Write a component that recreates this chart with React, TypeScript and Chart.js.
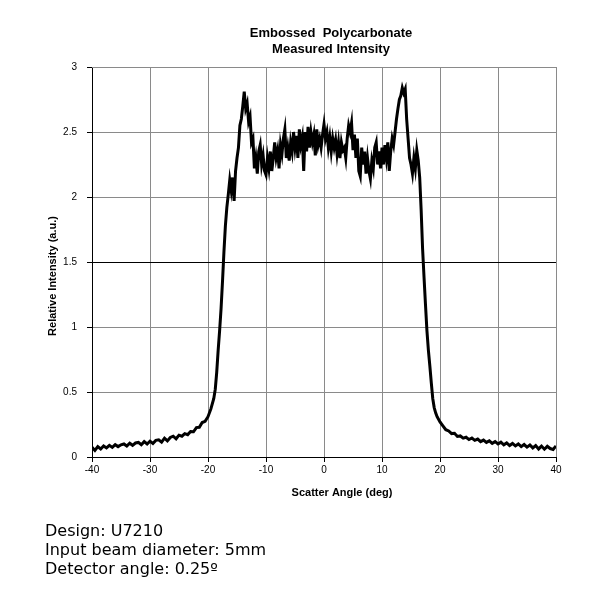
import React, { useEffect, useRef } from "react";
import { Chart, registerables } from "chart.js";

Chart.register(...registerables);

const angles: number[] = [
  -40, -39.5, -39, -38.5, -38, -37.5, -37, -36.5, -36, -35.5, -35, -34.5, -34, -33.5, -33, -32.5, -32, -31.5, -31, -30.5,
  -30, -29.5, -29, -28.5, -28, -27.5, -27, -26.5, -26, -25.5, -25, -24.5, -24, -23.5, -23, -22.5, -22, -21.5, -21, -20.5,
  -20, -19.5, -19, -18.75, -18.5, -18.25, -18, -17.75, -17.5, -17.25, -17, -16.75, -16.5, -16.25, -16, -15.75, -15.5, -15.25,
  -15, -14.75, -14.5, -14.25, -14, -13.75, -13.5, -13.25, -13, -12.75, -12.5, -12.25, -12, -11.75, -11.5, -11.25, -11, -10.75,
  -10.5, -10.25, -10, -9.75, -9.5, -9.25, -9, -8.75, -8.5, -8.25, -8, -7.75, -7.5, -7.25, -7, -6.75, -6.5, -6.25, -6, -5.75,
  -5.5, -5.25, -5, -4.75, -4.5, -4.25, -4, -3.75, -3.5, -3.25, -3, -2.75, -2.5, -2.25, -2, -1.75, -1.5, -1.25, -1, -0.75,
  -0.5, -0.25, 0, 0.25, 0.5, 0.75, 1, 1.25, 1.5, 1.75, 2, 2.25, 2.5, 2.75, 3, 3.25, 3.5, 3.75, 4, 4.25,
  4.5, 4.75, 5, 5.25, 5.5, 5.75, 6, 6.25, 6.5, 6.75, 7, 7.25, 7.5, 7.75, 8, 8.25, 8.5, 8.75, 9, 9.25,
  9.5, 9.75, 10, 10.25, 10.5, 10.75, 11, 11.25, 11.5, 11.75, 12, 12.25, 12.5, 12.75, 13, 13.25, 13.5, 13.75, 14, 14.25,
  14.5, 14.75, 15, 15.25, 15.5, 15.75, 16, 16.25, 16.5, 16.75, 17, 17.25, 17.5, 17.75, 18, 18.25, 18.5, 18.75, 19, 19.25,
  19.5, 20, 20.5, 21, 21.5, 22, 22.5, 23, 23.5, 24, 24.5, 25, 25.5, 26, 26.5, 27, 27.5, 28, 28.5, 29,
  29.5, 30, 30.5, 31, 31.5, 32, 32.5, 33, 33.5, 34, 34.5, 35, 35.5, 36, 36.5, 37, 37.5, 38, 38.5, 39,
  39.5, 40,
];

const intensity: number[] = [
  0.075, 0.05, 0.08, 0.062, 0.085, 0.07, 0.09, 0.074, 0.095, 0.08, 0.094, 0.1, 0.084, 0.106, 0.09, 0.108, 0.112, 0.094, 0.118, 0.1,
  0.122, 0.104, 0.128, 0.132, 0.114, 0.145, 0.124, 0.15, 0.16, 0.14, 0.168, 0.16, 0.18, 0.172, 0.196, 0.194, 0.226, 0.228, 0.265, 0.275,
  0.31, 0.37, 0.45, 0.52, 0.65, 0.82, 0.97, 1.14, 1.35, 1.58, 1.78, 1.92, 2.02, 2.13, 2.05, 2.15, 1.97, 2.2,
  2.3, 2.38, 2.55, 2.6, 2.7, 2.81, 2.68, 2.72, 2.58, 2.62, 2.42, 2.45, 2.22, 2.3, 2.18, 2.35, 2.4, 2.25,
  2.32, 2.2, 2.17, 2.3, 2.22, 2.35, 2.2, 2.3, 2.42, 2.3, 2.36, 2.22, 2.4, 2.33, 2.45, 2.52, 2.3, 2.38, 2.28, 2.42,
  2.35, 2.5, 2.38, 2.47, 2.3, 2.52, 2.4, 2.46, 2.2, 2.5, 2.35, 2.54, 2.38, 2.5, 2.42, 2.48, 2.32, 2.52, 2.4, 2.45,
  2.38, 2.48, 2.56, 2.45, 2.5, 2.38, 2.46, 2.35, 2.45, 2.38, 2.44, 2.33, 2.42, 2.3, 2.42, 2.36, 2.38, 2.3, 2.45, 2.55,
  2.5, 2.57, 2.36, 2.48, 2.3, 2.45, 2.2, 2.16, 2.38, 2.25, 2.35, 2.18, 2.3, 2.2, 2.14, 2.28, 2.22, 2.38, 2.42, 2.25,
  2.35, 2.22, 2.38, 2.25, 2.4, 2.3, 2.42, 2.2, 2.35, 2.45, 2.4, 2.5, 2.6, 2.68, 2.75, 2.78, 2.84, 2.8, 2.83, 2.6,
  2.45, 2.3, 2.25, 2.18, 2.3, 2.22, 2.36, 2.28, 2.15, 1.9, 1.6, 1.38, 1.17, 0.97, 0.82, 0.7, 0.57, 0.45, 0.38, 0.34,
  0.31, 0.27, 0.24, 0.21, 0.2, 0.18, 0.182, 0.158, 0.162, 0.145, 0.152, 0.134, 0.146, 0.128, 0.138, 0.118, 0.13, 0.112, 0.124, 0.105,
  0.118, 0.1, 0.114, 0.094, 0.108, 0.088, 0.104, 0.085, 0.1, 0.08, 0.096, 0.076, 0.092, 0.07, 0.088, 0.062, 0.084, 0.06, 0.082, 0.065,
  0.058, 0.085,
];

const xTicks: number[] = [-40, -30, -20, -10, 0, 10, 20, 30, 40];
const yTicks: number[] = [0, 0.5, 1, 1.5, 2, 2.5, 3];
const titleLines: string[] = ["Embossed  Polycarbonate", "Measured Intensity"];
const xTitle = "Scatter Angle (deg)";
const yTitle = "Relative Intensity (a.u.)";
const notes: string[] = ["Design: U7210", "Input beam diameter: 5mm", "Detector angle: 0.25º"];

const textPlugin = {
  id: "textPlugin",
  afterDraw(chart: any) {
    const ctx = chart.ctx as CanvasRenderingContext2D;
    ctx.save();
    ctx.fillStyle = "#000";
    ctx.textAlign = "center";
    ctx.textBaseline = "alphabetic";
    ctx.font = "bold 13px 'Liberation Sans', Arial, sans-serif";
    ctx.fillText(titleLines[0], 331, 37);
    ctx.fillText(titleLines[1], 331, 52.5);
    ctx.font = "bold 11px 'Liberation Sans', Arial, sans-serif";
    ctx.fillText(xTitle, 342, 496);
    ctx.translate(56, 276);
    ctx.rotate(-Math.PI / 2);
    ctx.fillText(yTitle, 0, 0);
    ctx.restore();
  },
};

export default function App() {
  const ref = useRef<HTMLCanvasElement>(null);
  useEffect(() => {
    if (!ref.current) return;
    const chart = new Chart(ref.current, {
      type: "line",
      data: {
        datasets: [
          {
            data: angles.map((a, i) => ({ x: a, y: intensity[i] })),
            borderColor: "#000",
            borderWidth: 3,
            pointRadius: 0,
            tension: 0,
          },
        ],
      },
      options: {
        animation: false,
        responsive: false,
        layout: { padding: { top: 67, right: 44, left: 0, bottom: 0 } },
        plugins: { legend: { display: false }, title: { display: false }, tooltip: { enabled: false } },
        scales: {
          x: {
            type: "linear",
            min: -40,
            max: 40,
            afterFit: (s: any) => {
              s.height = 143;
            },
            afterBuildTicks: (s: any) => {
              s.ticks = xTicks.map((v) => ({ value: v }));
            },
            ticks: {
              color: "#000",
              font: { family: "'Liberation Sans', Arial", size: 10 },
              padding: 2,
              maxRotation: 0,
              callback: (v: any) => String(v),
            },
            grid: { color: "#8a8a8a", lineWidth: 1, tickLength: 5, tickColor: "#000" },
            border: { color: "#000", width: 1 },
          },
          y: {
            min: 0,
            max: 3,
            afterFit: (s: any) => {
              s.width = 92;
            },
            afterBuildTicks: (s: any) => {
              s.ticks = yTicks.map((v) => ({ value: v }));
            },
            ticks: {
              color: "#000",
              font: { family: "'Liberation Sans', Arial", size: 10 },
              padding: 10,
              callback: (v: any) => String(v),
            },
            grid: {
              color: (c: any) => (c.tick && c.tick.value === 1.5 ? "#000" : "#8a8a8a"),
              lineWidth: 1,
              tickLength: 5,
              tickColor: "#000",
            },
            border: { color: "#000", width: 1 },
          },
        },
      },
      plugins: [
        textPlugin,
        {
          id: "frame",
          afterDraw(chart: any) {
            const { ctx, chartArea } = chart;
            ctx.save();
            ctx.strokeStyle = "#8a8a8a";
            ctx.lineWidth = 1;
            ctx.beginPath();
            ctx.moveTo(chartArea.left, chartArea.top + 0.5);
            ctx.lineTo(chartArea.right, chartArea.top + 0.5);
            ctx.stroke();
            ctx.restore();
          },
        },
      ],
    } as any);
    return () => chart.destroy();
  }, []);

  return (
    <div style={{ position: "absolute", left: 0, top: 0, width: 600, height: 600, background: "#fff" }}>
      <canvas ref={ref} width={600} height={600} style={{ position: "absolute", left: 0, top: 0 }} />
      <div
        style={{
          position: "absolute",
          left: 45,
          top: 521,
          fontFamily: "'DejaVu Sans', Verdana, sans-serif",
          fontSize: 16,
          lineHeight: "19px",
          color: "#000",
          whiteSpace: "pre",
        }}
      >
        {notes.map((n) => (
          <div key={n}>{n}</div>
        ))}
      </div>
    </div>
  );
}
